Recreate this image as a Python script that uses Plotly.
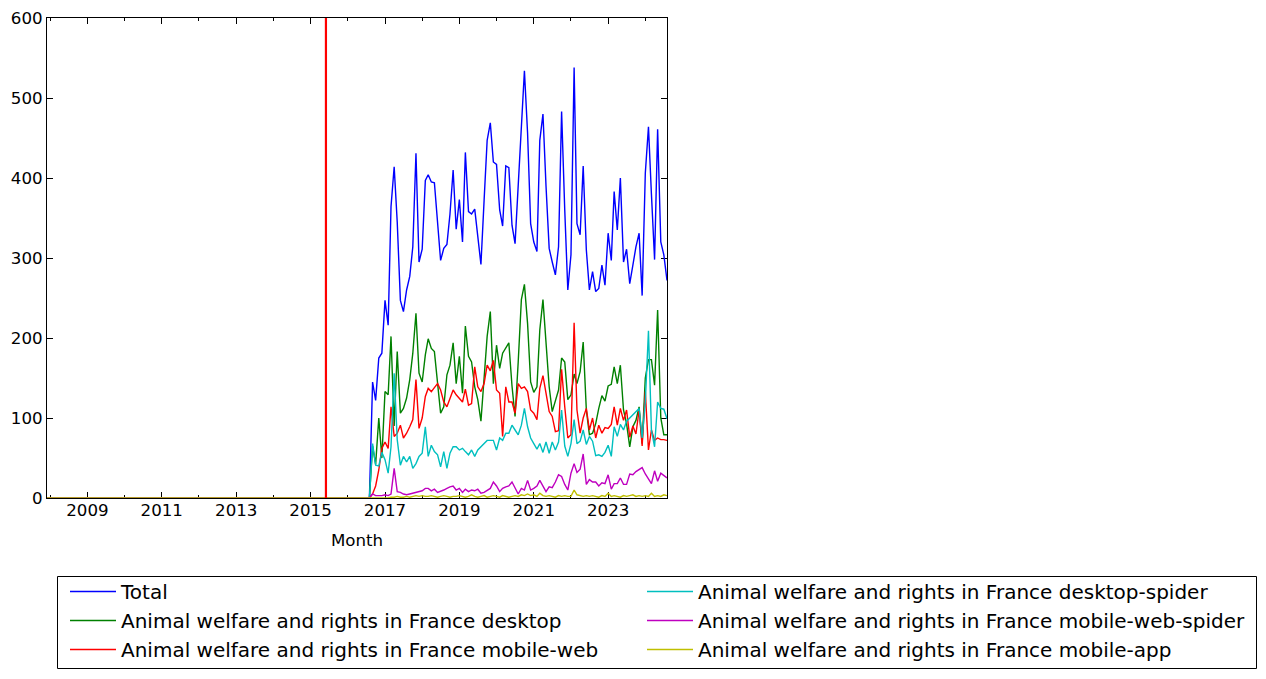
import pandas as pd
import plotly.graph_objects as go

# ---------------- data ----------------
first_month = "2007-12-01"
data_start = "2016-09-01"
last_month = "2024-08-01"
marker_date = "2015-06-01"

series_names = [
    "Total",
    "Animal welfare and rights in France desktop",
    "Animal welfare and rights in France mobile-web",
    "Animal welfare and rights in France desktop-spider",
    "Animal welfare and rights in France mobile-web-spider",
    "Animal welfare and rights in France mobile-app",
]

# monthly values Sep 2016 .. Aug 2024 (all series are 0 before Sep 2016)
total = [
    145, 122, 175, 181,
    247, 216, 364, 414, 345, 247, 233, 260, 277, 314, 431, 295,
    311, 397, 404, 395, 394, 345, 297, 312, 317, 355, 410, 336,
    373, 320, 432, 358, 355, 361, 327, 292, 372, 447, 469, 420,
    417, 360, 340, 415, 413, 341, 318, 390, 464, 534, 456, 343,
    320, 308, 447, 480, 390, 312, 295, 279, 314, 483, 360, 260,
    304, 538, 343, 329, 415, 310, 260, 283, 258, 262, 291, 266,
    331, 297, 383, 335, 400, 295, 311, 268, 291, 314, 331, 253,
    406, 464, 380, 298, 461, 320, 304, 272,
]
desktop = [
    65, 42, 100, 50,
    133, 129, 202, 90, 183, 106, 112, 125, 148, 181, 231, 156,
    145, 179, 199, 187, 183, 148, 106, 114, 154, 166, 194, 143,
    177, 131, 215, 177, 170, 139, 123, 96, 156, 202, 233, 143,
    191, 162, 181, 187, 194, 140, 102, 170, 248, 267, 218, 145,
    132, 139, 210, 248, 189, 139, 108, 120, 135, 175, 170, 123,
    129, 155, 143, 158, 195, 110, 79, 81, 93, 112, 128, 121,
    140, 142, 164, 143, 166, 110, 93, 64, 89, 97, 114, 68,
    150, 173, 173, 141, 235, 100, 79, 79,
]
mobile_web = [
    5, 15, 35, 62,
    70, 62, 114, 77, 81, 91, 75, 81, 89, 98, 148, 87,
    100, 127, 137, 133, 138, 143, 135, 120, 114, 125, 135, 129,
    125, 120, 136, 116, 118, 164, 139, 133, 143, 166, 159, 172,
    135, 131, 77, 139, 120, 120, 106, 143, 137, 139, 133, 110,
    106, 98, 137, 153, 131, 108, 102, 83, 84, 161, 114, 75,
    79, 219, 110, 81, 100, 112, 85, 100, 75, 91, 81, 88,
    87, 92, 114, 91, 112, 97, 110, 76, 90, 80, 110, 65,
    133, 60, 85, 72, 75, 73, 73, 72,
]
desktop_spider = [
    68, 41, 40, 57,
    48, 31, 64, 156, 73, 41, 52, 45, 52, 37, 43, 52,
    56, 89, 52, 66, 58, 54, 39, 58, 37, 56, 64, 64,
    60, 62, 58, 54, 60, 52, 60, 64, 68, 72, 72, 72,
    60, 75, 72, 81, 81, 91, 85, 79, 91, 112, 89, 75,
    68, 61, 68, 57, 70, 56, 70, 60, 70, 110, 65, 52,
    68, 98, 68, 71, 85, 67, 77, 71, 53, 54, 52, 57,
    66, 52, 89, 77, 92, 85, 96, 100, 103, 107, 112, 75,
    120, 209, 85, 64, 120, 112, 111, 99,
]
mobile_web_spider = [
    5, 3, 3, 3,
    4, 3, 5, 37, 8, 7, 5, 4, 5, 6, 7, 8,
    9, 12, 12, 9, 11, 7, 8, 10, 12, 14, 15, 10,
    12, 7, 11, 8, 10, 9, 11, 6, 7, 10, 12, 20,
    15, 8, 12, 14, 15, 20, 12, 5, 12, 10, 22, 10,
    12, 15, 22, 15, 8, 14, 13, 20, 29, 27, 17, 10,
    31, 43, 32, 36, 55, 17, 23, 20, 20, 15, 19, 18,
    29, 11, 18, 18, 25, 17, 17, 30, 29, 33, 36, 38,
    30, 24, 18, 34, 21, 31, 28, 25,
]
mobile_app = [
    0, 0, 0, 0,
    0, 0, 1, 1, 2, 1, 1, 2, 1, 2, 3, 2,
    3, 2, 2, 3, 2, 1, 2, 3, 2, 1, 2, 2,
    3, 2, 1, 2, 4, 2, 1, 2, 3, 1, 2, 3,
    2, 1, 3, 2, 1, 2, 3, 2, 4, 3, 5, 3,
    4, 2, 6, 3, 2, 3, 2, 1, 3, 2, 3, 2,
    2, 10, 4, 3, 2, 3, 2, 3, 2, 1, 3, 2,
    6, 2, 3, 2, 1, 3, 2, 3, 4, 2, 3, 2,
    3, 2, 6, 2, 3, 2, 4, 3,
]

tick_years = ["2009", "2011", "2013", "2015", "2017", "2019", "2021", "2023"]
y_ticks = [0, 100, 200, 300, 400, 500, 600]
colors = ["#0000ff", "#008000", "#ff0000", "#00bfbf", "#bf00bf", "#bfbf00"]

# ---------------- build ----------------
zero_months = pd.date_range(first_month, data_start, freq="MS", inclusive="left")
active_months = pd.date_range(data_start, last_month, freq="MS")
months = list(zero_months) + list(active_months)
zeros = [0] * len(zero_months)

series_values = [total, desktop, mobile_web, desktop_spider, mobile_web_spider, mobile_app]
legend_of = ["legend", "legend", "legend", "legend2", "legend2", "legend2"]

FONT = "DejaVu Sans"
fig = go.Figure()
for name, vals, col, lg in zip(series_names, series_values, colors, legend_of):
    fig.add_trace(go.Scatter(
        x=months, y=zeros + vals, mode="lines", name=name,
        line=dict(color=col, width=1.4), legend=lg,
    ))

fig.add_shape(type="line", xref="x", yref="paper", x0=marker_date, x1=marker_date,
              y0=0, y1=1, line=dict(color="#ff0000", width=2.2))

# page has an 8px body margin; figure sized to fit the 1266x679 window
PAGE_OFF = 8
W, H = 1266 - PAGE_OFF, 679 - PAGE_OFF
pw, ph = 620, 480
ml, mt = 47 - PAGE_OFF, 18 - PAGE_OFF
mr, mb = W - ml - pw, H - mt - ph

def px(xp):  # page x pixel -> paper coordinate
    return (xp - PAGE_OFF - ml) / pw

def py(yp):  # page y pixel -> paper coordinate
    return (mt + ph - (yp - PAGE_OFF)) / ph

fig.add_shape(type="rect", xref="paper", yref="paper",
              x0=px(57.5), x1=px(1256.5), y0=py(576.5), y1=py(668.5),
              line=dict(color="black", width=1), fillcolor="rgba(0,0,0,0)")

tickfont = dict(family=FONT, size=16.67, color="black")
legfont = dict(family=FONT, size=20, color="black")
fig.update_layout(
    width=W, height=H,
    margin=dict(l=ml, r=mr, t=mt, b=mb, autoexpand=False),
    paper_bgcolor="white", plot_bgcolor="white",
    font=dict(family=FONT, color="black"),
    showlegend=True,
    legend=dict(x=px(65), y=py(572), xanchor="left", yanchor="top",
                bgcolor="rgba(0,0,0,0)", borderwidth=0, itemwidth=46,
                font=legfont),
    legend2=dict(x=px(642), y=py(572), xanchor="left", yanchor="top",
                 bgcolor="rgba(0,0,0,0)", borderwidth=0, itemwidth=46,
                 font=legfont),
    xaxis=dict(
        type="date", range=[first_month, last_month], automargin=False,
        tickvals=[f"{y}-01-01" for y in tick_years], ticktext=tick_years,
        ticks="inside", ticklen=6, tickcolor="black", tickwidth=1,
        ticklabelstandoff=-3,
        minor=dict(ticks="inside", ticklen=3, dtick="M12", tick0="2008-01-01",
                   tickcolor="black", showgrid=False),
        showline=True, linecolor="black", linewidth=1, mirror="ticks",
        showgrid=False, zeroline=False, tickfont=tickfont,
        title=dict(text="Month", font=tickfont),
        layer="below traces",
    ),
    yaxis=dict(
        range=[0, 600], tickvals=y_ticks, automargin=False,
        ticks="inside", ticklen=6, tickcolor="black", tickwidth=1,
        ticklabelstandoff=0,
        showline=True, linecolor="black", linewidth=1, mirror="ticks",
        showgrid=False, zeroline=False, tickfont=tickfont,
        layer="below traces",
    ),
)

fig.write_html("out.html")
